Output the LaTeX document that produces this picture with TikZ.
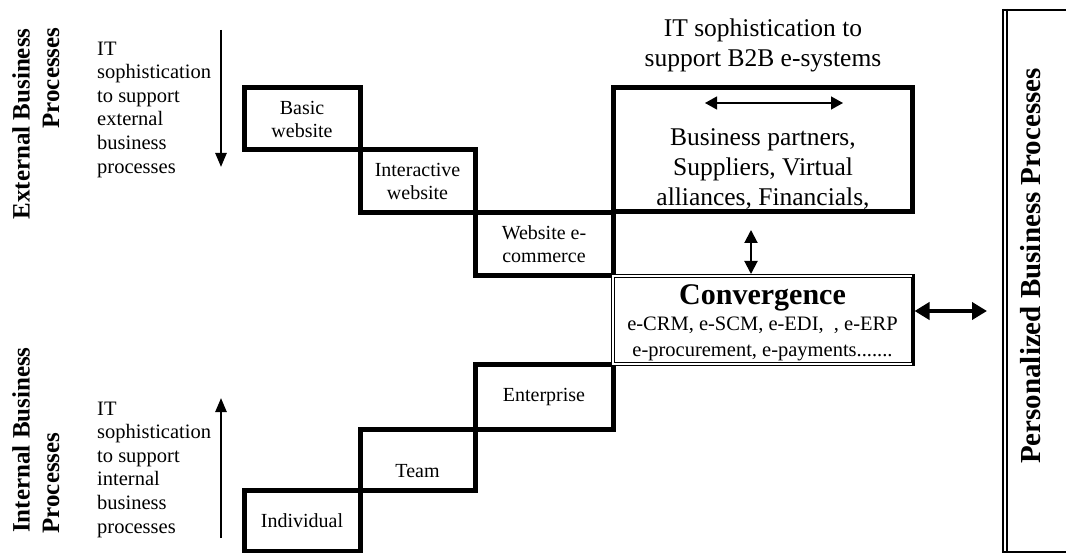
\documentclass[tikz,border=0pt]{standalone}
\usepackage{fontspec}
\setmainfont{Liberation Serif}
\usetikzlibrary{arrows.meta}
\begin{document}
\begin{tikzpicture}[x=1pt,y=-1pt,
  stepbox/.style={draw, line width=5pt, inner sep=0pt, align=center,
    font=\fontsize{20}{23}\selectfont},
  sidetext/.style={inner sep=0pt, align=left, anchor=north west,
    font=\fontsize{20.5}{23.6}\selectfont},
  sidehead/.style={inner sep=0pt, rotate=90,
    font=\fontsize{25}{30}\selectfont\bfseries},
  bigtext/.style={inner sep=0pt, align=center,
    font=\fontsize{25.5}{30}\selectfont},
  pointer/.style={line width=2.5pt, -{Triangle[width=11pt,length=14pt]}},
  thinpair/.style={line width=1.3pt,
    {Triangle[width=13pt,length=12pt]}-{Triangle[width=13pt,length=12pt]}},
  midpair/.style={line width=2pt,
    {Triangle[width=13pt,length=13pt]}-{Triangle[width=13pt,length=13pt]}},
  boldpair/.style={line width=4pt,
    {Triangle[width=17pt,length=15pt]}-{Triangle[width=17pt,length=15pt]}}
]
\useasboundingbox (0,0) rectangle (1066,553);

% upper staircase: external processes
\node[stepbox, minimum width=116pt, minimum height=62pt] (basic) at (302,119) {Basic\\website};
\node[stepbox, minimum width=115pt, minimum height=63pt] (inter) at (417.5,181.5) {Interactive\\website};
\node[stepbox, minimum width=138pt, minimum height=63pt] (ecom) at (544,244.5) {Website e-\\commerce};
\node[stepbox, minimum width=299pt, minimum height=124pt] (b2b) at (762.5,150) {};
\node[bigtext] (partners) at (763,169.5) {Business partners,\\Suppliers, Virtual\\alliances, Financials,};
\node[bigtext] (b2bhead) at (763,45.5) {IT sophistication to\\support B2B e-systems};
\coordinate (pl) at (705,103);
\coordinate (pr) at (843,103);
\draw[thinpair] (pl) -- (pr);

% lower staircase: internal processes
\node[stepbox, minimum width=116pt, minimum height=61pt] (indiv) at (302,520.5) {Individual};
\node[stepbox, minimum width=115pt, minimum height=61pt] (team) at (417.5,459.5) {};
\node[inner sep=0pt, font=\fontsize{20}{23}\selectfont] (teamlabel) at ([yshift=-12pt]team.center) {Team};
\node[stepbox, minimum width=138pt, minimum height=64pt] (enter) at (544,397) {Enterprise};

% convergence box
\node[draw, double, double distance=2pt, line width=1pt, outer sep=2pt, inner sep=0pt,
  minimum width=300pt, minimum height=88pt] (conv) at (762.5,320) {};
\node[inner sep=0pt, align=center, font=\fontsize{20.5}{26}\selectfont] (convtext) at (762.5,323)
  {{\fontsize{30}{30}\selectfont\bfseries Convergence}\\e-CRM, e-SCM, e-EDI,\ \ , e-ERP\\e-procurement, e-payments.......};
\draw[line width=3pt] ([xshift=-1.5pt]conv.north east) -- ([xshift=-1.5pt]conv.south east);

\coordinate (vgap) at (751,230);
\draw[midpair] (vgap) -- (vgap |- conv.north);
\coordinate (pin) at (987,311);
\draw[boldpair] (conv.east |- pin) -- (pin);

% left side headings and direction arrows
\node[sidehead] (ext1) at (21,124) {External Business};
\node[sidehead] (ext2) at (51,78) {Processes};
\node[sidehead] (int1) at (21,440) {Internal Business};
\node[sidehead] (int2) at (51,483) {Processes};
\node[sidetext] (exttext) at (97,41.5) {IT\\sophistication\\to support\\external\\business\\processes};
\node[sidetext] (inttext) at (97,401.5) {IT\\sophistication\\to support\\internal\\business\\processes};
\coordinate (dtop) at (221,30);
\coordinate (dbot) at (221,167);
\draw[pointer] (dtop) -- (dbot);
\coordinate (ubot) at (221,538);
\coordinate (utop) at (221,398);
\draw[pointer] (ubot) -- (utop);

% personalized business processes panel
\draw[line width=1.3pt] (1003,9) -- (1003,552);
\draw[line width=1.3pt] (1007,9) -- (1007,552);
\draw[line width=2.5pt] (1002,10) -- (1070,10);
\draw[line width=2.5pt] (1002,552) -- (1070,552);
\node[inner sep=0pt, rotate=90, font=\fontsize{29}{30}\selectfont\bfseries] (pbp) at (1031,266) {Personalized Business Processes};
\end{tikzpicture}
\end{document}
